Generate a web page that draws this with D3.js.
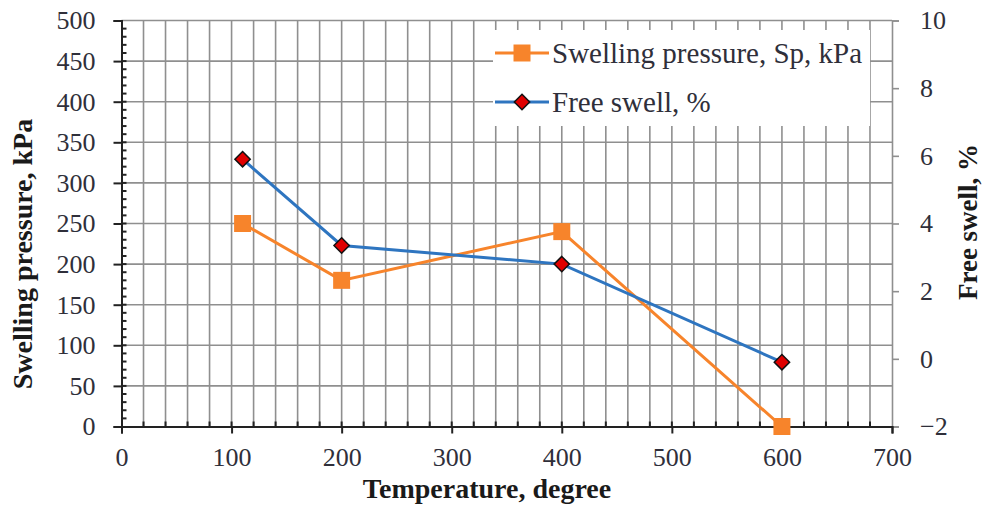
<!DOCTYPE html>
<html lang="en">
	<head>
		<meta charset="utf-8">
		<title>D3: Swelling pressure and free swell</title>
		<script type="text/javascript" src="https://cdn.jsdelivr.net/npm/d3@7"></script>
		<style type="text/css">

		body {
			margin: 0;
			background: #fff;
		}

		text {
			font-family: "Liberation Serif", "DejaVu Serif", serif;
			fill: #2f2f3a;
		}

		.title {
			font-weight: bold;
			fill: #1a1a1a;
		}

		</style>
	</head>
	<body>

		<script type="text/javascript">

		//Width and height
		var w = 985;
		var h = 509;

		//Data
		var temperature = [110, 200, 400, 600];
		var swellingPressure = [250, 180, 240, 0];  //kPa, left axis
		var freeSwell = [5.9, 3.35, 2.8, -0.1];      //%, right axis

		var xTicks = [0, 100, 200, 300, 400, 500, 600, 700];
		var yLeftTicks = [0, 50, 100, 150, 200, 250, 300, 350, 400, 450, 500];
		var yRightTicks = [-2, 0, 2, 4, 6, 8, 10];

		var seriesNames = ["Swelling pressure, Sp, kPa", "Free swell, %"];

		var orange = "#f7842b";
		var blue = "#2e75c0";
		var gridColor = "#8f8f8f";

		//Plot area (not "top": that name is taken by window.top)
		var plotLeft = 121.5, plotRight = 892, plotTop = 20.5, plotBottom = 426.5;

		var svg = d3.select("body")
					.append("svg")
					.attr("width", w)
					.attr("height", h);

		//Scales
		var xScale = d3.scaleLinear()
					   .domain([0, 700])
					   .range([plotLeft, plotRight]);

		var yLeft = d3.scaleLinear()
					  .domain([0, 500])
					  .range([plotBottom, plotTop]);

		var yRight = d3.scaleLinear()
					   .domain([-2, 10])
					   .range([plotBottom, plotTop]);

		//Grid: verticals every 20, horizontals every 50
		svg.append("g")
			.selectAll("line")
			.data(d3.range(20, 700, 20))
			.enter()
			.append("line")
			.attr("x1", function(d) { return xScale(d); })
			.attr("x2", function(d) { return xScale(d); })
			.attr("y1", plotTop)
			.attr("y2", plotBottom)
			.attr("stroke", gridColor)
			.attr("stroke-width", 1.6);

		svg.append("g")
			.selectAll("line")
			.data(d3.range(50, 550, 50))
			.enter()
			.append("line")
			.attr("x1", plotLeft)
			.attr("x2", plotRight)
			.attr("y1", function(d) { return yLeft(d); })
			.attr("y2", function(d) { return yLeft(d); })
			.attr("stroke", gridColor)
			.attr("stroke-width", 1.6);

		//Legend background sits over the grid
		var legend = svg.append("g")
						.attr("transform", "translate(493,30)");

		legend.append("rect")
			.attr("width", 377)
			.attr("height", 96)
			.attr("fill", "#fff");

		//Right axis (grey)
		var yRightAxis = d3.axisRight(yRight)
						   .tickValues(yRightTicks)
						   .tickSize(7)
						   .tickFormat(d3.format("d"));

		var gR = svg.append("g")
					.attr("transform", "translate(" + plotRight + ",0)")
					.call(yRightAxis);
		gR.select(".domain").attr("stroke", gridColor).attr("stroke-width", 1.6);
		gR.selectAll(".tick line").attr("stroke", gridColor).attr("stroke-width", 1.6);
		gR.selectAll(".tick text")
			.attr("x", 28)
			.attr("font-size", 26)
			.text(function(d) { return d < 0 ? "\u2212" + (-d) : d; });

		//Bottom axis: major ticks outside, minor ticks inside
		svg.append("g")
			.selectAll("line")
			.data(d3.range(20, 700, 20))
			.enter()
			.append("line")
			.attr("x1", function(d) { return xScale(d); })
			.attr("x2", function(d) { return xScale(d); })
			.attr("y1", plotBottom)
			.attr("y2", plotBottom - 5)
			.attr("stroke", "#222")
			.attr("stroke-width", 2);

		var xAxis = d3.axisBottom(xScale)
					  .tickValues(xTicks)
					  .tickSize(7)
					  .tickPadding(14);

		var gX = svg.append("g")
					.attr("transform", "translate(0," + plotBottom + ")")
					.call(xAxis);
		gX.select(".domain").attr("stroke", "#222").attr("stroke-width", 2);
		gX.selectAll(".tick line").attr("stroke", "#222").attr("stroke-width", 2);
		gX.selectAll(".tick text").attr("font-size", 26);

		//Left axis: major ticks outside, minor ticks every 10 inside
		svg.append("g")
			.selectAll("line")
			.data(d3.range(10, 500, 10))
			.enter()
			.append("line")
			.attr("x1", plotLeft)
			.attr("x2", plotLeft + 5)
			.attr("y1", function(d) { return yLeft(d); })
			.attr("y2", function(d) { return yLeft(d); })
			.attr("stroke", "#222")
			.attr("stroke-width", 2);

		var yLeftAxis = d3.axisLeft(yLeft)
						  .tickValues(yLeftTicks)
						  .tickSize(8)
						  .tickPadding(18);

		var gL = svg.append("g")
					.attr("transform", "translate(" + plotLeft + ",0)")
					.call(yLeftAxis);
		gL.select(".domain").attr("stroke", "#222").attr("stroke-width", 2);
		gL.selectAll(".tick line").attr("stroke", "#222").attr("stroke-width", 2);
		gL.selectAll(".tick text").attr("font-size", 26);

		//Lines
		var sp = temperature.map(function(t, i) { return [t, swellingPressure[i]]; });
		var fs = temperature.map(function(t, i) { return [t, freeSwell[i]]; });

		var spLine = d3.line()
					   .x(function(d) { return xScale(d[0]); })
					   .y(function(d) { return yLeft(d[1]); });

		var fsLine = d3.line()
					   .x(function(d) { return xScale(d[0]); })
					   .y(function(d) { return yRight(d[1]); });

		svg.append("path")
			.attr("d", spLine(sp))
			.attr("fill", "none")
			.attr("stroke", orange)
			.attr("stroke-width", 3);

		svg.append("path")
			.attr("d", fsLine(fs))
			.attr("fill", "none")
			.attr("stroke", blue)
			.attr("stroke-width", 3);

		var square = d3.symbol().type(d3.symbolSquare).size(289);
		var diamond = d3.symbol().type(d3.symbolDiamond2).size(150);

		svg.selectAll(".sq")
			.data(sp)
			.enter()
			.append("path")
			.attr("class", "sq")
			.attr("transform", function(d) { return "translate(" + xScale(d[0]) + "," + yLeft(d[1]) + ")"; })
			.attr("d", square)
			.attr("fill", orange);

		svg.selectAll(".dm")
			.data(fs)
			.enter()
			.append("path")
			.attr("class", "dm")
			.attr("transform", function(d) { return "translate(" + xScale(d[0]) + "," + yRight(d[1]) + ")"; })
			.attr("d", diamond)
			.attr("fill", "#e00000")
			.attr("stroke", "#111")
			.attr("stroke-width", 1.5);

		//Legend entries
		var rows = legend.selectAll(".row")
						 .data(seriesNames)
						 .enter()
						 .append("g")
						 .attr("class", "row")
						 .attr("transform", function(d, i) { return "translate(0," + (23 + i * 49) + ")"; });

		rows.append("line")
			.attr("x1", 2)
			.attr("x2", 56)
			.attr("stroke", function(d, i) { return i == 0 ? orange : blue; })
			.attr("stroke-width", 3);

		rows.append("path")
			.attr("transform", "translate(29,0)")
			.attr("d", function(d, i) { return i == 0 ? square() : diamond(); })
			.attr("fill", function(d, i) { return i == 0 ? orange : "#e00000"; })
			.attr("stroke", function(d, i) { return i == 0 ? "none" : "#111"; })
			.attr("stroke-width", 1.5);

		rows.append("text")
			.attr("x", 59)
			.attr("dy", "0.35em")
			.attr("font-size", 29)
			.text(function(d) { return d; });

		//Axis titles
		svg.append("text")
			.attr("class", "title")
			.attr("x", 487)
			.attr("y", 498)
			.attr("text-anchor", "middle")
			.attr("font-size", 28)
			.text("Temperature, degree");

		svg.append("text")
			.attr("class", "title")
			.attr("transform", "translate(32,254) rotate(-90)")
			.attr("text-anchor", "middle")
			.attr("font-size", 28)
			.text("Swelling pressure, kPa");

		svg.append("text")
			.attr("class", "title")
			.attr("transform", "translate(977,222) rotate(-90)")
			.attr("text-anchor", "middle")
			.attr("font-size", 27)
			.text("Free swell, %");

		</script>
	</body>
</html>
